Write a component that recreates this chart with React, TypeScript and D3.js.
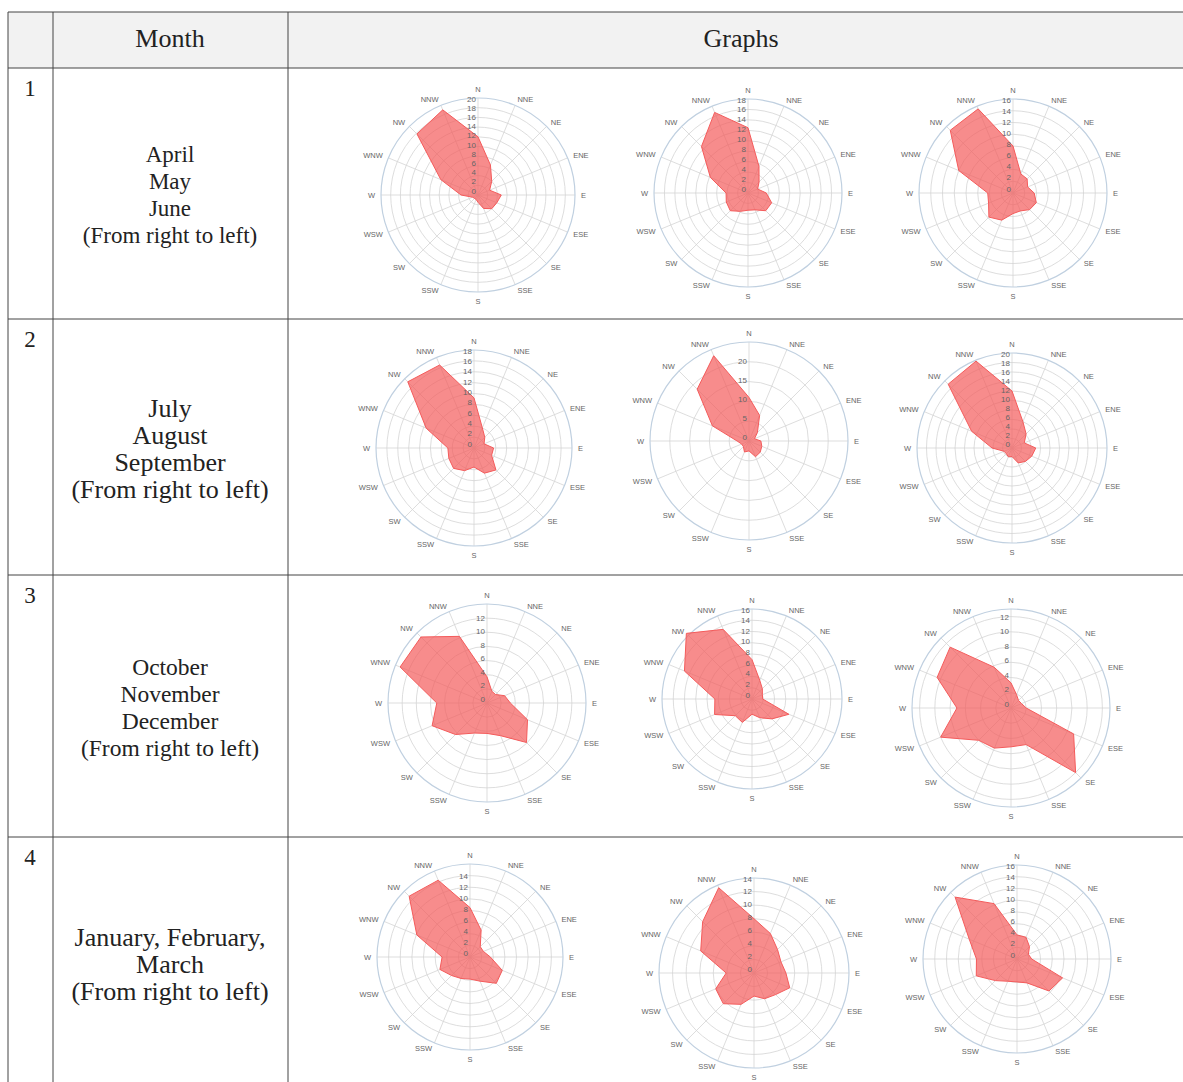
import * as d3 from 'd3';

const DIRECTIONS = ['N', 'NNE', 'NE', 'ENE', 'E', 'ESE', 'SE', 'SSE', 'S', 'SSW', 'SW', 'WSW', 'W', 'WNW', 'NW', 'NNW'];

// row 1: April, May, June
const row1Left = [12, 6.7, 4, 2.6, 4.8, 4.2, 4, 3, 1.5, 1, 1, 1.2, 3.5, 8.3, 17.8, 19];
const row1Mid = [12.5, 5.5, 3, 2, 3.5, 4.9, 4.8, 3.5, 3.3, 3.8, 4.8, 4.5, 4.2, 7.8, 12.6, 16.7];
const row1Right = [8, 3.5, 3.4, 2.7, 3.6, 4.3, 4, 3.3, 3.5, 5, 5.8, 4.5, 4.3, 10, 15.1, 15.5];
// row 2: July, August, September
const row2Left = [9.2, 4, 2.8, 2, 3.6, 3.5, 5.7, 5, 3.5, 4.5, 5.3, 5, 4.8, 9.5, 17.2, 16.5];
const row2Mid = [11, 7, 3, 1.5, 3, 3.5, 4, 4.3, 2.5, 3, 2, 2, 3, 10, 18.5, 23.3];
const row2Right = [12, 6, 4.2, 2.8, 5, 4.5, 4, 3.4, 1.8, 2, 1.7, 1.8, 4.2, 9.2, 19, 19.8];
// row 3: October, November, December
const row3Left = [3.7, 1.8, 1.7, 2.7, 3.3, 6.2, 7.9, 5, 4.3, 4.6, 6.3, 8.4, 7.1, 13.3, 13.2, 10.2];
const row3Mid = [7, 3.6, 2.6, 2, 1.9, 7.1, 5, 3.6, 2.7, 4.5, 4.2, 7.2, 6.6, 13, 16.5, 13.4];
const row3Right = [3.3, 1.9, 1.4, 1.5, 2, 8.9, 12, 5.2, 5.1, 5.7, 6, 10, 7.1, 10.5, 11.3, 5.8];
// row 4: January, February, March
const row4Left = [8.5, 5, 2.5, 2.5, 3.5, 6, 6.4, 4.5, 3.8, 4, 4.5, 5.6, 4.8, 9.9, 14.8, 14.3];
const row4Mid = [8, 6.3, 4.9, 4.3, 4.7, 5.7, 4.5, 4.1, 3.4, 5, 6.4, 6.1, 4.1, 8.5, 10.7, 13.6];
const row4Right = [4.1, 4, 3, 2.1, 2.5, 8.4, 7.7, 4.4, 3.9, 4.1, 5.2, 7.5, 6.9, 8.8, 14.9, 10.2];

const ticksTo20 = [0, 2, 4, 6, 8, 10, 12, 14, 16, 18, 20];
const ticksTo18 = [0, 2, 4, 6, 8, 10, 12, 14, 16, 18];
const ticksTo16 = [0, 2, 4, 6, 8, 10, 12, 14, 16];
const ticksTo14 = [0, 2, 4, 6, 8, 10, 12, 14];
const ticksTo12 = [0, 2, 4, 6, 8, 10, 12];
const ticksBy5 = [0, 5, 10, 15, 20];

const scaleMax = [20, 18, 16, 18, 25, 20, 14, 16, 13, 16, 14, 16];

const rowNumbers = ['1', '2', '3', '4'];
const rowLabels = [
  ['April', 'May', 'June', '(From right to left)'],
  ['July', 'August', 'September', '(From right to left)'],
  ['October', 'November', 'December', '(From right to left)'],
  ['January, February,', 'March', '(From right to left)'],
];

const roses = [
  { values: row1Left, ticks: ticksTo20 },
  { values: row1Mid, ticks: ticksTo18 },
  { values: row1Right, ticks: ticksTo16 },
  { values: row2Left, ticks: ticksTo18 },
  { values: row2Mid, ticks: ticksBy5 },
  { values: row2Right, ticks: ticksTo20 },
  { values: row3Left, ticks: ticksTo12 },
  { values: row3Mid, ticks: ticksTo16 },
  { values: row3Right, ticks: ticksTo12 },
  { values: row4Left, ticks: ticksTo14 },
  { values: row4Mid, ticks: ticksTo14 },
  { values: row4Right, ticks: ticksTo16 },
].map((d, i) => ({ ...d, max: scaleMax[i] }));

// where each rose sits in the table (cx, cy, outer radius)
const placement = [
  [478, 195, 97], [748, 193, 94], [1013, 193, 94],
  [474, 448, 98], [749, 441, 99], [1012, 448, 95],
  [487, 703, 99], [752, 699, 90], [1011, 708, 99],
  [470, 957, 93], [754, 973, 95], [1017, 959, 94],
];

const W = 1183;
const H = 1082;
const TABLE_LEFT = 8;
const TABLE_RIGHT = 1195;
const TABLE_TOP = 12;
const HEADER_BOTTOM = 68;
const COL_X = [53, 288];
const ROW_Y = [319, 575, 837];
const ROW_TEXT = [
  { y: 154, size: 23 },
  { y: 408, size: 26 },
  { y: 667, size: 23.5 },
  { y: 937, size: 26 },
];
const NUM_Y = [88, 339, 595, 857];

const SANS = '"Liberation Sans", Arial, sans-serif';
const SERIF = '"Liberation Serif", "Times New Roman", serif';

function Rose({ cx, cy, R, values, ticks, max }: any) {
  const r = d3.scaleLinear().domain([0, max]).range([0, R]);
  // tick labels sit a little above their ring, squeezed so the top one stays under the N label
  const labelY = d3.scaleLinear().domain([0, max]).range([-4, -(R - 1)]);
  const step = (2 * Math.PI) / DIRECTIONS.length;
  const area = d3
    .lineRadial<number>()
    .angle((_, i) => i * step)
    .radius((d) => r(d))
    .curve(d3.curveLinearClosed);
  const rings = ticks.filter((t: number) => t > 0 && t < max);

  return (
    <g transform={`translate(${cx},${cy})`}>
      {rings.map((t: number) => (
        <circle key={t} r={r(t)} fill="none" stroke="#d4d4d4" strokeWidth={0.8} />
      ))}
      {DIRECTIONS.map((d, i) => {
        const a = i * step;
        return (
          <line
            key={d}
            x1={0}
            y1={0}
            x2={R * Math.sin(a)}
            y2={-R * Math.cos(a)}
            stroke="#d4d4d4"
            strokeWidth={0.8}
          />
        );
      })}
      <circle r={R} fill="none" stroke="#c0d0e0" strokeWidth={1.2} />
      <path d={area(values)!} fill="#f45b5b" fillOpacity={0.7} stroke="#f45b5b" strokeWidth={1} />
      {ticks.map((t: number) => (
        <text
          key={t}
          x={-2}
          y={labelY(t)}
          textAnchor="end"
          dominantBaseline="central"
          fontFamily={SANS}
          fontSize={8}
          fill="#666"
        >
          {t}
        </text>
      ))}
      {DIRECTIONS.map((d, i) => {
        const a = i * step;
        const s = Math.sin(a);
        const c = Math.cos(a);
        const vertical = Math.abs(s) < 0.2;
        const dist = vertical ? R + 9 : R + 6;
        const anchor = vertical ? 'middle' : s > 0 ? 'start' : 'end';
        return (
          <text
            key={d}
            x={dist * s}
            y={-dist * c}
            textAnchor={anchor}
            dominantBaseline="central"
            fontFamily={SANS}
            fontSize={7.5}
            fill="#666"
          >
            {d}
          </text>
        );
      })}
    </g>
  );
}

export default function App() {
  return (
    <svg
      width={W}
      height={H}
      style={{ position: 'absolute', left: 0, top: 0, background: '#fff' }}
    >
      <rect x={TABLE_LEFT} y={TABLE_TOP} width={TABLE_RIGHT - TABLE_LEFT} height={HEADER_BOTTOM - TABLE_TOP} fill="#f2f2f2" />
      <g stroke="#444" strokeWidth={1}>
        <line x1={TABLE_LEFT} y1={TABLE_TOP} x2={TABLE_RIGHT} y2={TABLE_TOP} />
        <line x1={TABLE_LEFT} y1={HEADER_BOTTOM} x2={TABLE_RIGHT} y2={HEADER_BOTTOM} />
        {ROW_Y.map((y) => (
          <line key={y} x1={TABLE_LEFT} y1={y} x2={TABLE_RIGHT} y2={y} />
        ))}
        <line x1={TABLE_LEFT} y1={TABLE_TOP} x2={TABLE_LEFT} y2={H + 5} />
        {COL_X.map((x) => (
          <line key={x} x1={x} y1={TABLE_TOP} x2={x} y2={H + 5} />
        ))}
      </g>
      <text x={170} y={38} textAnchor="middle" dominantBaseline="central" fontFamily={SERIF} fontSize={26} fill="#222">
        Month
      </text>
      <text x={741} y={38} textAnchor="middle" dominantBaseline="central" fontFamily={SERIF} fontSize={26} fill="#222">
        Graphs
      </text>
      {rowNumbers.map((n, i) => (
        <text key={n} x={30} y={NUM_Y[i]} textAnchor="middle" dominantBaseline="central" fontFamily={SERIF} fontSize={23} fill="#222">
          {n}
        </text>
      ))}
      {rowLabels.map((lines, i) => (
        <g key={i}>
          {lines.map((l, j) => (
            <text
              key={j}
              x={170}
              y={ROW_TEXT[i].y + j * 27}
              textAnchor="middle"
              dominantBaseline="central"
              fontFamily={SERIF}
              fontSize={ROW_TEXT[i].size}
              fill="#222"
            >
              {l}
            </text>
          ))}
        </g>
      ))}
      {roses.map((d, i) => (
        <Rose key={i} cx={placement[i][0]} cy={placement[i][1]} R={placement[i][2]} {...d} />
      ))}
    </svg>
  );
}
